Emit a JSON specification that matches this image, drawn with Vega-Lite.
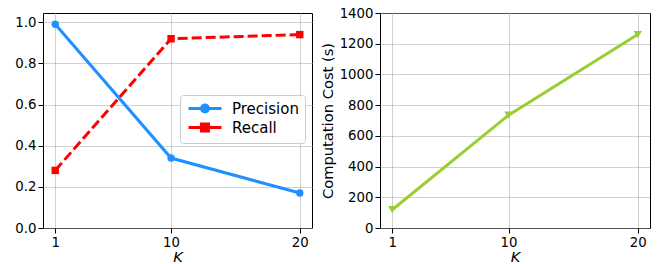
{
  "$schema": "https://vega.github.io/schema/vega-lite/v6.json",
  "padding": {"left": 14, "top": 5, "right": 5, "bottom": 0},
  "spacing": 6,
  "background": "white",
  "config": {
    "font": "DejaVu Sans",
    "view": {"stroke": "black", "strokeWidth": 1},
    "axis": {
      "domain": false,
      "grid": true,
      "gridColor": "#a0a0a0",
      "gridDash": [1, 1],
      "gridWidth": 1,
      "tickColor": "black",
      "tickSize": 5,
      "labelFontSize": 13.3,
      "labelColor": "black",
      "labelPadding": 2,
      "titleFontSize": 14.7,
      "titleFontWeight": "normal",
      "titleColor": "black"
    }
  },
  "datasets": {
    "pr": [
      {"K": 1, "metric": "Precision", "value": 0.99},
      {"K": 10, "metric": "Precision", "value": 0.34},
      {"K": 20, "metric": "Precision", "value": 0.17},
      {"K": 1, "metric": "Recall", "value": 0.28},
      {"K": 10, "metric": "Recall", "value": 0.92},
      {"K": 20, "metric": "Recall", "value": 0.94}
    ],
    "cost": [
      {"K": 1, "cost": 119},
      {"K": 10, "cost": 735},
      {"K": 20, "cost": 1260}
    ]
  },
  "hconcat": [
    {
      "width": 269,
      "height": 215,
      "data": {"name": "pr"},
      "encoding": {
        "x": {
          "field": "K", "type": "quantitative",
          "scale": {"domain": [0.05, 20.95], "nice": false, "zero": false},
          "axis": {"values": [1, 10, 20], "title": "K", "titleFontStyle": "italic", "titlePadding": 1}
        },
        "y": {
          "field": "value", "type": "quantitative",
          "scale": {"domain": [0, 1.045], "nice": false},
          "axis": {"values": [0, 0.2, 0.4, 0.6, 0.8, 1.0], "format": ".1f", "title": null}
        },
        "color": {
          "field": "metric", "type": "nominal",
          "scale": {"domain": ["Precision", "Recall"], "range": ["#1E90FF", "#FF0000"]},
          "legend": {
            "orient": "none",
            "legendX": 137,
            "legendY": 82,
            "title": null,
            "labelFontSize": 15,
            "labelColor": "black",
            "symbolSize": 100,
            "symbolStrokeWidth": 3,
            "labelOffset": 31,
            "padding": 6,
            "rowPadding": 0,
            "strokeColor": "#cccccc",
            "fillColor": "white",
            "cornerRadius": 3,
            "symbolOpacity": 1,
            "encode": {
              "symbols": {
                "update": {
                  "shape": {"signal": "datum.value === 'Precision' ? 'M-1,0L5.6,0M1.6,0A0.7,0.7,0,1,0,3,0A0.7,0.7,0,1,0,1.6,0Z' : 'M-1,0L5.6,0M1.6,-0.7L3,-0.7L3,0.7L1.6,0.7Z'"},
                  "fill": {"signal": "datum.value === 'Precision' ? '#1E90FF' : '#FF0000'"},
                  "stroke": {"signal": "datum.value === 'Precision' ? '#1E90FF' : '#FF0000'"},
                  "fillOpacity": {"value": 1},
                  "strokeWidth": {"value": 3}
                }
              }
            }
          }
        }
      },
      "layer": [
        {
          "transform": [{"filter": "datum.metric === 'Precision'"}],
          "mark": {"type": "line", "strokeWidth": 3}
        },
        {
          "transform": [{"filter": "datum.metric === 'Recall'"}],
          "mark": {"type": "line", "strokeWidth": 3, "strokeDash": [10, 4]}
        },
        {
          "transform": [{"filter": "datum.metric === 'Precision'"}],
          "mark": {"type": "point", "filled": true, "opacity": 1, "size": 55, "shape": "circle"}
        },
        {
          "transform": [{"filter": "datum.metric === 'Recall'"}],
          "mark": {"type": "point", "filled": true, "opacity": 1, "size": 55, "shape": "square"}
        }
      ]
    },
    {
      "width": 270,
      "height": 215,
      "data": {"name": "cost"},
      "encoding": {
        "x": {
          "field": "K", "type": "quantitative",
          "scale": {"domain": [0.05, 20.95], "nice": false, "zero": false},
          "axis": {"values": [1, 10, 20], "title": "K", "titleFontStyle": "italic", "titlePadding": 1}
        },
        "y": {
          "field": "cost", "type": "quantitative",
          "scale": {"domain": [0, 1400], "nice": false},
          "axis": {"values": [0, 200, 400, 600, 800, 1000, 1200, 1400], "format": "d", "title": "Computation Cost (s)", "titlePadding": 4}
        }
      },
      "layer": [
        {"mark": {"type": "line", "strokeWidth": 3, "color": "#9ACD32"}},
        {"mark": {"type": "point", "filled": true, "opacity": 1, "size": 70, "shape": "triangle-down", "color": "#9ACD32"}}
      ]
    }
  ]
}
